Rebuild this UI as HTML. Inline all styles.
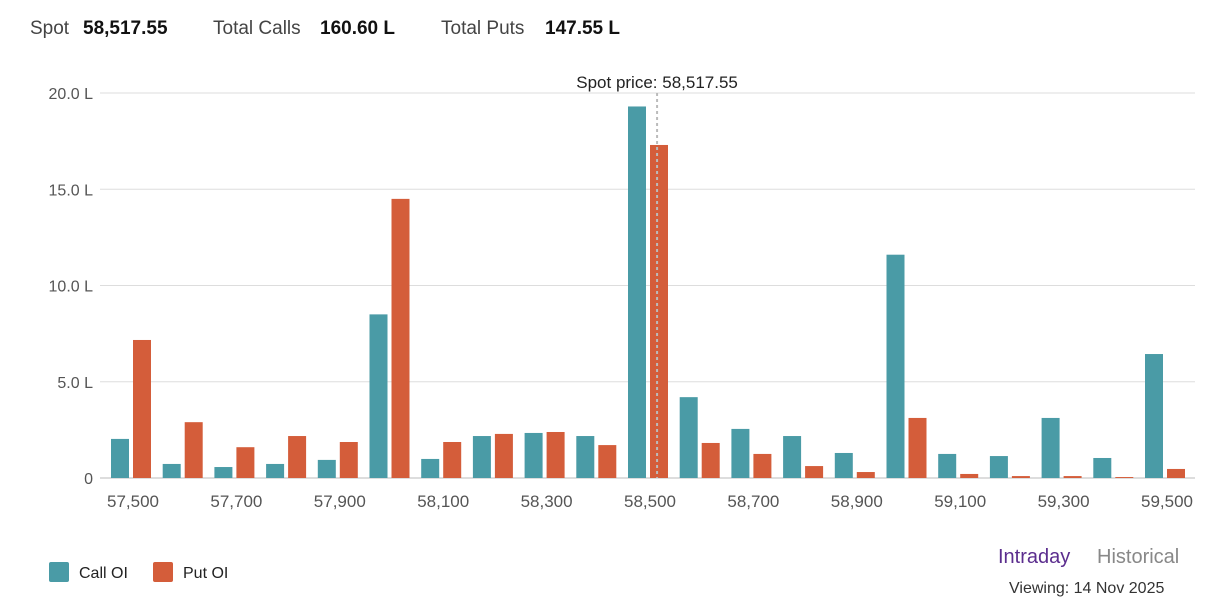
<!DOCTYPE html>
<html><head><meta charset="utf-8"><style>
body{margin:0;background:#fff;font-family:"Liberation Sans",sans-serif;width:1213px;height:605px;overflow:hidden;position:relative}
.h{position:absolute;top:18px;font-size:19px;color:#444}
.h.b{font-weight:bold;color:#111}
.leg{position:absolute;top:562px;font-size:16px;color:#222}
.sw{display:inline-block;width:20px;height:20px;vertical-align:-4px;margin-right:10px;border-radius:2px}
</style></head><body>
<div>
<span class="h" style="left:30px">Spot</span><span class="h b" style="left:83px">58,517.55</span>
<span class="h" style="left:213px">Total Calls</span><span class="h b" style="left:320px">160.60 L</span>
<span class="h" style="left:441px">Total Puts</span><span class="h b" style="left:545px">147.55 L</span>
</div>
<svg id="c" width="1213" height="605" style="position:absolute;left:0;top:0"></svg>
<div class="leg" style="left:49px"><span class="sw" style="background:#4a9ba6"></span>Call OI</div>
<div class="leg" style="left:153px"><span class="sw" style="background:#d45d3a"></span>Put OI</div>
<div style="position:absolute;left:998px;top:546px;font-size:20px;color:#5b2d8e">Intraday</div>
<div style="position:absolute;left:1097px;top:546px;font-size:20px;color:#888">Historical</div>
<div style="position:absolute;left:1009px;top:580px;font-size:16px;color:#333">Viewing: 14 Nov 2025</div>
<script>
const strikes=[57500,57600,57700,57800,57900,58000,58100,58200,58300,58400,58500,58600,58700,58800,58900,59000,59100,59200,59300,59400,59500];
const callOI=[2.03,0.73,0.57,0.73,0.94,8.5,0.99,2.18,2.34,2.18,19.3,4.2,2.55,2.18,1.3,11.6,1.25,1.14,3.12,1.04,6.44];
const putOI=[7.17,2.9,1.6,2.18,1.87,14.5,1.87,2.29,2.39,1.71,17.3,1.82,1.25,0.62,0.31,3.12,0.21,0.1,0.1,0.05,0.47];
const yTicks=[0,5,10,15,20];
const xTicks=[57500,57700,57900,58100,58300,58500,58700,58900,59100,59300,59500];
const spot=58517.55;
const svg=document.getElementById('c');const NS='http://www.w3.org/2000/svg';
const y=v=>478-v*19.25;const x=s=>131+(s-57500)/100*51.7;
function mk(t,a,txt){const e=document.createElementNS(NS,t);for(const k in a)e.setAttribute(k,a[k]);if(txt!==undefined)e.textContent=txt;svg.appendChild(e);return e;}
yTicks.forEach(v=>{
 const l=mk('line',{x1:100,x2:1195,y1:y(v),y2:y(v),stroke:v?'#ddd':'#bbb'});
 
 
 const t=mk('text',{x:93,y:y(v)+6,'text-anchor':'end','font-size':16,fill:'#555'},v===0?'0':v.toFixed(1)+' L');
 
 
});
xTicks.forEach(s=>{
 const t=mk('text',{x:x(s)+2,y:507,'text-anchor':'middle','font-size':17,fill:'#555'},s.toLocaleString('en-US'));
 
 
});
strikes.forEach((s,i)=>{
 const c=mk('rect',{x:x(s)-20,y:y(callOI[i]),width:18,height:callOI[i]*19.25,fill:'#4a9ba6'});
 
 
 const p=mk('rect',{x:x(s)+2,y:y(putOI[i]),width:18,height:putOI[i]*19.25,fill:'#d45d3a'});
 
 
});
const sl=mk('line',{x1:x(spot),x2:x(spot),y1:93,y2:478,stroke:'#bbb','stroke-width':2,'stroke-dasharray':'3,3'});


const st=mk('text',{x:x(spot),y:88,'text-anchor':'middle','font-size':17,fill:'#222'},'Spot price: 58,517.55');


</script>
</body></html>
